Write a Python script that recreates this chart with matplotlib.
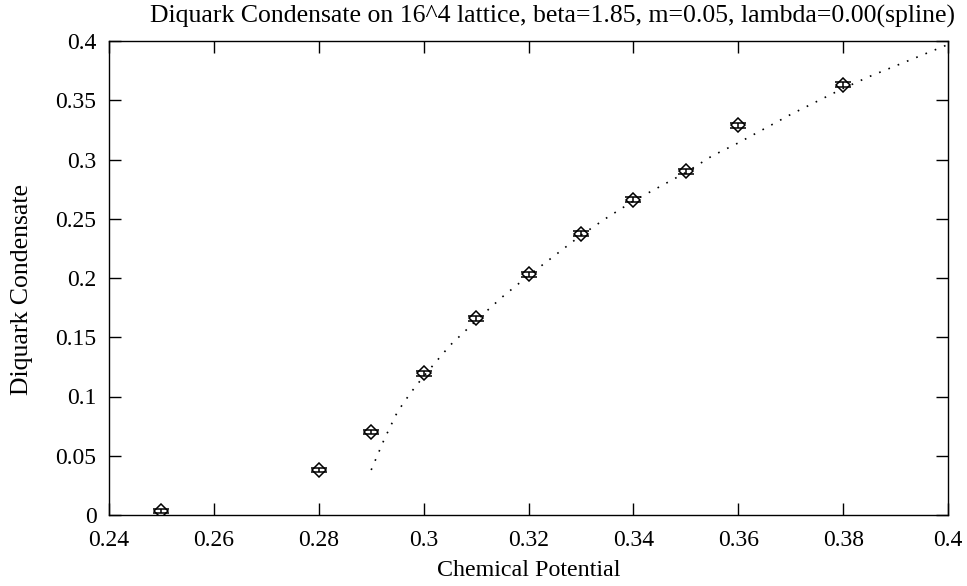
import numpy as np
import matplotlib
matplotlib.use('Agg')
from matplotlib import pyplot as plt

plt.rcParams['font.family'] = 'Liberation Serif'

# measured points
mu = [0.25, 0.28, 0.29, 0.30, 0.31, 0.32, 0.33, 0.34, 0.35, 0.36, 0.38]
cond = [0.0034, 0.038, 0.070, 0.1196, 0.166, 0.203, 0.2375, 0.266, 0.290, 0.329, 0.363]
err = [0.0015, 0.002, 0.002, 0.002, 0.002, 0.002, 0.002, 0.002, 0.002, 0.002, 0.002]

# spline curve
spline_mu = [0.290, 0.2925, 0.295, 0.2975, 0.300, 0.305, 0.310, 0.315, 0.320, 0.325,
             0.330, 0.335, 0.340, 0.345, 0.350, 0.355, 0.360, 0.365, 0.370, 0.375,
             0.380, 0.385, 0.390, 0.395, 0.400]
spline_cond = [0.038, 0.064, 0.087, 0.103, 0.117, 0.143, 0.164, 0.184, 0.202, 0.219,
               0.236, 0.251, 0.265, 0.277, 0.289, 0.303, 0.314, 0.326, 0.338, 0.349,
               0.360, 0.370, 0.379, 0.388, 0.397]

xticks = [0.24, 0.26, 0.28, 0.3, 0.32, 0.34, 0.36, 0.38, 0.4]
yticks = [0, 0.05, 0.1, 0.15, 0.2, 0.25, 0.3, 0.35, 0.4]

fig = plt.figure(figsize=(9.67, 5.86), dpi=100)
ax = fig.add_axes([109 / 967, 1 - 515 / 586, (948 - 109) / 967, (515 - 41) / 586])

ax.plot(spline_mu, spline_cond, color='black', linestyle=(0, (1, 5)), linewidth=1.2)
ax.errorbar(mu, cond, yerr=err, fmt='D', color='black', markerfacecolor='none',
            markersize=7, markeredgewidth=1.1, elinewidth=1.1, capsize=6, capthick=1.1)

ax.set_xlim(0.24, 0.4)
ax.set_ylim(0, 0.4)
ax.set_xticks(xticks)
ax.set_xticklabels([f'{v:g}' for v in xticks])
ax.set_yticks(yticks)
ax.set_yticklabels([f'{v:g}' for v in yticks])
ax.tick_params(direction='in', length=8.5, width=1, top=True, right=True, labelsize=17)
ax.tick_params(axis='x', pad=10.5)
ax.tick_params(axis='y', pad=9)
for s in ax.spines.values():
    s.set_linewidth(1)

ax.set_xlabel('Chemical Potential', fontsize=17.3, labelpad=7)
ax.set_ylabel('Diquark Condensate', fontsize=18.5)
ax.yaxis.set_label_coords(-0.090, 0.475)
ax.set_title('Diquark Condensate on 16^4 lattice, beta=1.85, m=0.05, lambda=0.00(spline)',
             fontsize=18.5, pad=13, x=0.529)

fig.savefig('out.png', dpi=100)
